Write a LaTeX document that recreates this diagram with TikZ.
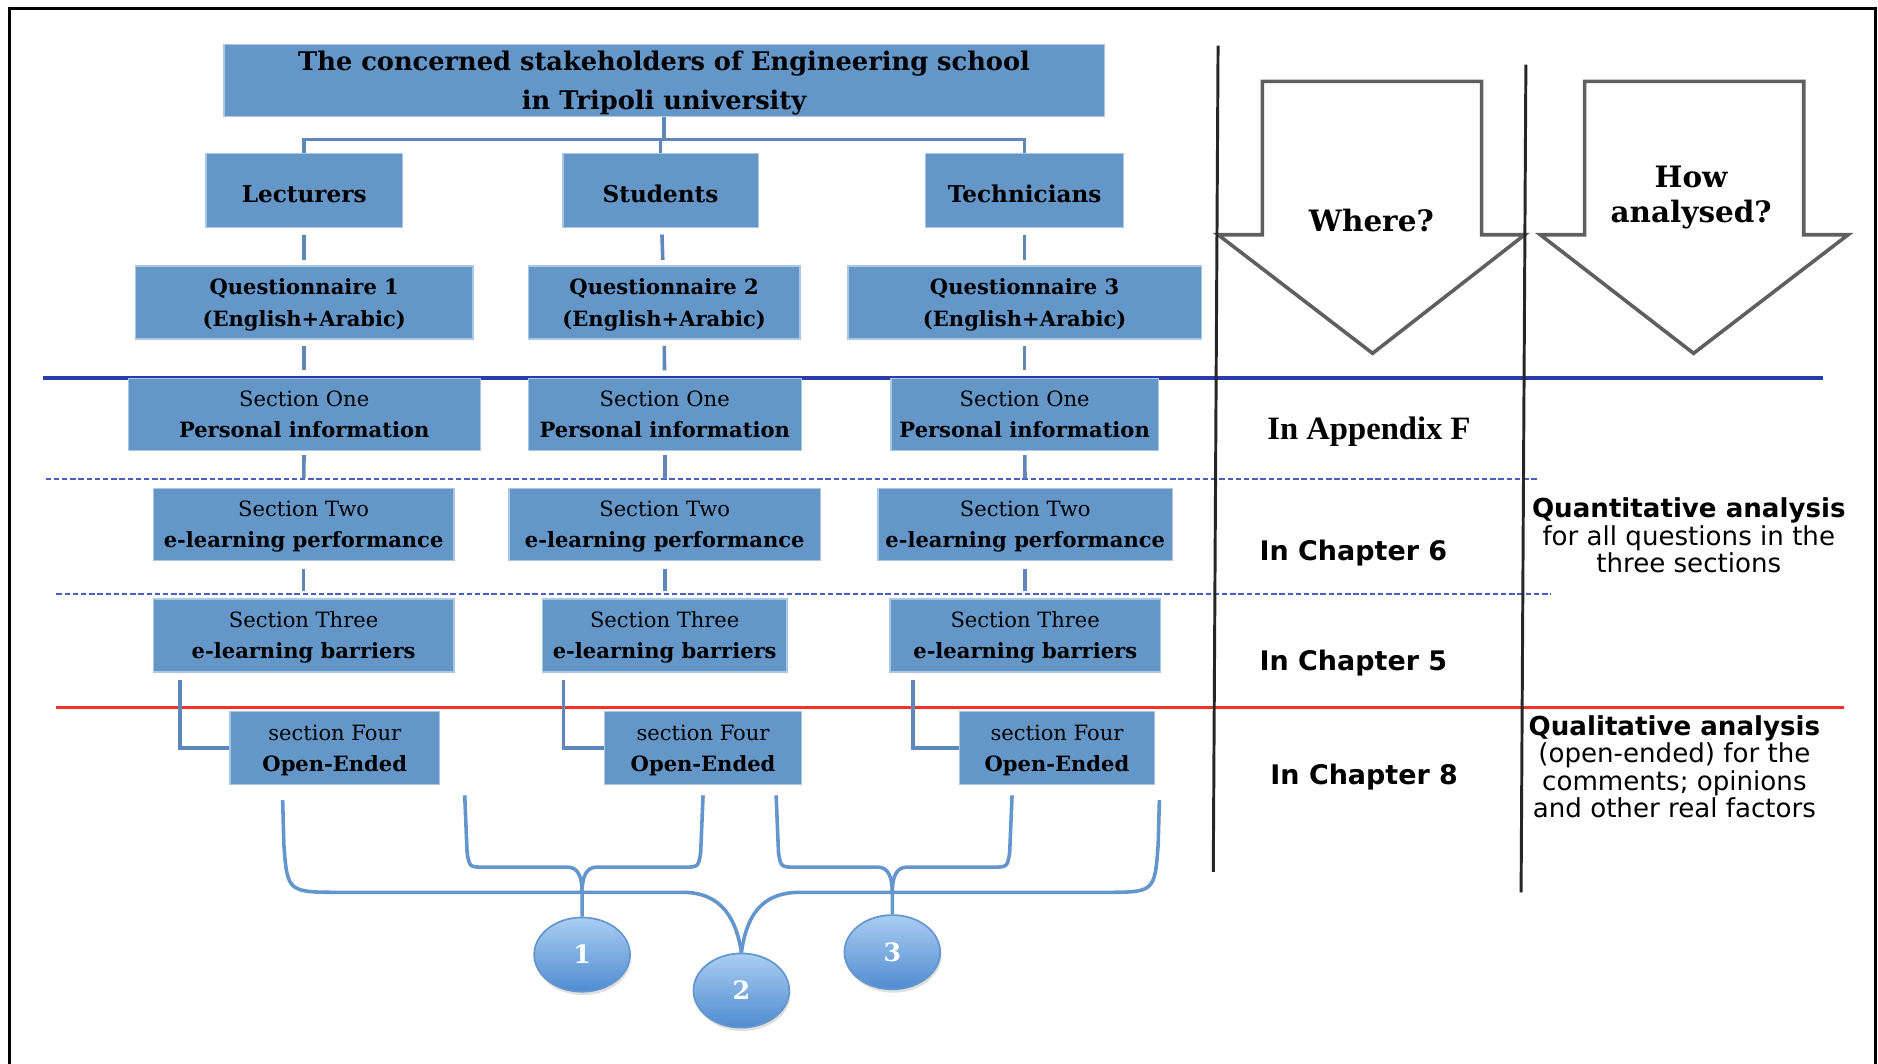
\documentclass[tikz,border=0pt]{standalone}
\usepackage{fontspec}
\setmainfont{DejaVu Serif}
\newfontfamily\sansfont{DejaVu Sans}
\newfontfamily\timesfont{Liberation Serif}
\usetikzlibrary{shapes.geometric,calc,shadows}
\definecolor{boxblue}{RGB}{100,150,200}
\definecolor{boxedge}{RGB}{170,200,228}
\definecolor{linkblue}{RGB}{95,135,185}
\definecolor{braceblue}{RGB}{100,150,205}
\definecolor{deepblue}{RGB}{40,60,170}
\definecolor{dashblue}{RGB}{75,95,195}
\definecolor{cutred}{RGB}{240,50,40}
\definecolor{arrowgray}{RGB}{95,95,95}
\definecolor{balltop}{RGB}{170,205,242}
\definecolor{ballbot}{RGB}{80,140,208}
\begin{document}
\begin{tikzpicture}[x=0.2mm,y=-0.2mm,
  box/.style={fill=boxblue,draw=boxedge,line width=0.6pt,inner sep=0pt,align=center,
    minimum height=12mm,text depth=-1.6pt,font=\fontsize{10}{14.8}\selectfont},
  headbox/.style={box,text depth=-2pt,font=\fontsize{12.2}{18.2}\selectfont\bfseries},
  whobox/.style={box,minimum height=12.4mm,text height=11.5pt,text depth=0pt,font=\fontsize{11}{13}\selectfont\bfseries},
  link/.style={draw=linkblue,line width=1.7pt},
  brace/.style={draw=braceblue,line width=1.7pt},
  divider/.style={draw=black!85,line width=1.4pt},
  blockarrow/.style={draw=arrowgray,fill=white,line width=1.7pt,line join=miter},
  numball/.style={ellipse,draw=braceblue,line width=0.8pt,top color=balltop,bottom color=ballbot,
    drop shadow={opacity=0.25,shadow xshift=0.6pt,shadow yshift=-1.6pt},
    minimum width=16mm,minimum height=12.4mm,inner sep=0pt,text=white,font=\fontsize{12}{12}\selectfont\bfseries},
  place/.style={font=\sansfont\fontsize{12.8}{14}\selectfont\bfseries},
  remark/.style={align=center,font=\sansfont\fontsize{12.4}{12}\selectfont}
]
\useasboundingbox (0,0) rectangle (1568,888);
\draw[line width=1.1pt] (8,900) -- (8,7) -- (1566,7) -- (1566,900);

\draw[deepblue,line width=1.9pt] (36,316) -- (1522,316);
\draw[dashblue,line width=1.2pt,dash pattern=on 2.6pt off 1.3pt] (38,400) -- (1285,400);
\draw[dashblue,line width=1.2pt,dash pattern=on 2.6pt off 1.3pt] (47,496) -- (1295,496);
\draw[cutred,line width=1.4pt] (47,591) -- (1540,591);

\node[headbox,minimum width=147mm] (title) at (554.5,67) {The concerned stakeholders of Engineering school\\in Tripoli university};

\node[whobox,minimum width=32.8mm] (lect) at (254,159) {Lecturers};
\node[whobox,minimum width=32.6mm] (stud) at (551.5,159) {Students};
\node[whobox,minimum width=33mm] (tech) at (855.5,159) {Technicians};

\node[box,minimum width=56.4mm,minimum height=12.2mm,font=\fontsize{10}{14.8}\selectfont\bfseries] (q1) at (254,252.5) {Questionnaire 1\\(English+Arabic)};
\node[box,minimum width=45.4mm,minimum height=12.2mm,font=\fontsize{10}{14.8}\selectfont\bfseries] (q2) at (554.5,252.5) {Questionnaire 2\\(English+Arabic)};
\node[box,minimum width=59mm,minimum height=12.2mm,font=\fontsize{10}{14.8}\selectfont\bfseries] (q3) at (855.5,252.5) {Questionnaire 3\\(English+Arabic)};

\node[box,minimum width=58.8mm] (s1a) at (254,346) {Section One\\\textbf{Personal information}};
\node[box,minimum width=45.6mm] (s1b) at (555,346) {Section One\\\textbf{Personal information}};
\node[box,minimum width=44.6mm] (s1c) at (855.5,346) {Section One\\\textbf{Personal information}};

\node[box,minimum width=50.2mm] (s2a) at (253.5,438) {Section Two\\\textbf{e-learning performance}};
\node[box,minimum width=52mm] (s2b) at (555,438) {Section Two\\\textbf{e-learning performance}};
\node[box,minimum width=49.2mm] (s2c) at (856,438) {Section Two\\\textbf{e-learning performance}};

\node[box,minimum width=50.2mm,minimum height=12.2mm] (s3a) at (253.5,530.5) {Section Three\\\textbf{e-learning barriers}};
\node[box,minimum width=40.8mm,minimum height=12.2mm] (s3b) at (555,530.5) {Section Three\\\textbf{e-learning barriers}};
\node[box,minimum width=45.2mm,minimum height=12.2mm] (s3c) at (856,530.5) {Section Three\\\textbf{e-learning barriers}};

\node[box,minimum width=35mm,minimum height=12.2mm] (s4a) at (279.5,624.5) {section Four\\\textbf{Open-Ended}};
\node[box,minimum width=32.8mm,minimum height=12.2mm] (s4b) at (587,624.5) {section Four\\\textbf{Open-Ended}};
\node[box,minimum width=32.6mm,minimum height=12.2mm] (s4c) at (882.5,624.5) {section Four\\\textbf{Open-Ended}};

\draw[link] (lect.north) -- ++(0,-11) coordinate (bar) -| (tech.north);
\draw[link] (title.south) -- (title.south |- bar);
\draw[link] (stud.north) -- (stud.north |- bar);

\draw[link,shorten <=3pt,shorten >=2.5pt] (lect) -- (q1);
\draw[link,shorten <=3pt,shorten >=2.5pt] (stud) -- (q2);
\draw[link,shorten <=3pt,shorten >=2.5pt] (tech) -- (q3);
\draw[link,shorten <=3pt,shorten >=3.5pt] (q1) -- (s1a);
\draw[link,shorten <=3pt,shorten >=3.5pt] (q2) -- (s1b);
\draw[link,shorten <=3pt,shorten >=3.5pt] (q3) -- (s1c);
\draw[link,shorten <=2pt,shorten >=4.5pt] (s1a) -- (s2a);
\draw[link,shorten <=2pt,shorten >=4.5pt] (s1b) -- (s2b);
\draw[link,shorten <=2pt,shorten >=4.5pt] (s1c) -- (s2c);
\draw[link,shorten <=3.5pt,shorten >=3.5pt] (s2a) -- (s3a);
\draw[link,shorten <=3.5pt,shorten >=3.5pt] (s2b) -- (s3b);
\draw[link,shorten <=3.5pt,shorten >=3.5pt] (s2c) -- (s3c);

\draw[link] ($(s3a.south west)+(23,6)$) |- (s4a.west);
\draw[link] ($(s3b.south west)+(18,6)$) |- (s4b.west);
\draw[link] ($(s3c.south west)+(20,6)$) |- (s4c.west);

\coordinate (lowL) at (236,668);
\coordinate (lowR) at (968,668);
\coordinate (b1L) at (388,664);
\coordinate (b1R) at (587,664);
\coordinate (b3L) at (648,664);
\coordinate (b3R) at (845,664);

\node[numball] (e1) at (486,797) {1};
\node[numball] (e2) at (619,827) {2};
\node[numball] (e3) at (745,795) {3};

\draw[brace] (lowL) -- (237,705) .. controls (240,745) .. (285,745) -- (570,745) .. controls (603,745) and (615,768) .. (e2.north);
\draw[brace] (lowR) -- (967,705) .. controls (964,745) .. (922,745) -- (668,745) .. controls (633,745) and (623,768) .. (e2.north);
\draw[brace] (b1L) -- (390,712) .. controls (392,724) .. (405,724) -- (474,724) .. controls (483,724) and (486,733) .. (486,745) -- (e1.north);
\draw[brace] (b1R) -- (585,712) .. controls (583,724) .. (570,724) -- (498,724) .. controls (489,724) and (486,733) .. (486,745);
\draw[brace] (b3L) -- (650,712) .. controls (652,724) .. (665,724) -- (733,724) .. controls (742,724) and (745,733) .. (745,745) -- (e3.north);
\draw[brace] (b3R) -- (843,712) .. controls (841,724) .. (828,724) -- (757,724) .. controls (748,724) and (745,733) .. (745,745);

\draw[blockarrow] (1054,68) -- (1237,68) -- (1237,196) -- (1273,196) -- (1146,295) -- (1017,196) -- (1054,196) -- cycle;
\draw[blockarrow] (1323,68) -- (1506,68) -- (1506,196) -- (1543,196) -- (1414,295) -- (1286,196) -- (1323,196) -- cycle;
\draw[divider] (1017,38) -- (1013,728);
\draw[divider] (1274,54) -- (1270,745);

\node[font=\fontsize{14}{17}\selectfont\bfseries] (where) at (1145,184) {Where?};
\node[align=center,font=\fontsize{14}{17}\selectfont\bfseries] (how) at (1412,165) {How\\analysed?};

\node[font=\timesfont\fontsize{15.5}{18}\selectfont\bfseries] (appF) at (1143,360) {In Appendix F};
\node[place] (ch6) at (1130,462) {In Chapter 6};
\node[place] (ch5) at (1130,554) {In Chapter 5};
\node[place] (ch8) at (1139,649) {In Chapter 8};

\node[remark] (quant) at (1410,447) {\textbf{Quantitative analysis}\\for all questions in the\\three sections};
\node[remark] (qual) at (1398,640) {\textbf{Qualitative analysis}\\(open-ended) for the\\comments; opinions\\and other real factors};
\end{tikzpicture}
\end{document}
